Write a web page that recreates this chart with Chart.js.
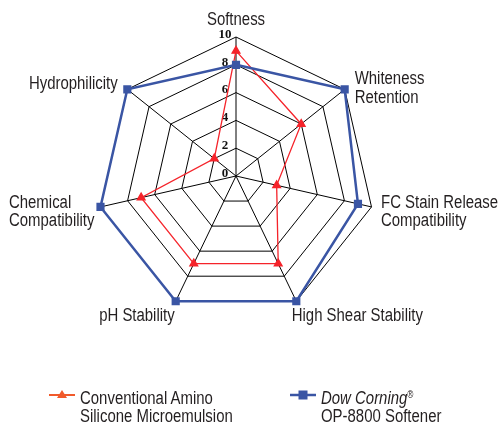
<!DOCTYPE html>
<html><head><meta charset="utf-8">
<script src="https://cdn.jsdelivr.net/npm/chart.js@4.4.1/dist/chart.umd.min.js"></script>
<style>
html,body{margin:0;padding:0;background:#fff;}
#wrap{position:relative;width:500px;height:423px;overflow:hidden;}
#c{position:absolute;left:0;top:0;}
.leg{position:absolute;font-family:"Liberation Sans",Arial,sans-serif;font-size:18px;line-height:18px;color:#231f20;white-space:nowrap;transform:scaleX(0.83);transform-origin:0 0;}
.leg i{font-style:italic;}
.leg sup{font-size:10px;vertical-align:6px;line-height:0;}
.mk{position:absolute;}
</style></head>
<body>
<div id="wrap">
<canvas id="c" width="500" height="423"></canvas>
<svg class="mk" style="left:49px;top:389px" width="27" height="12"><line x1="0" y1="6" x2="26" y2="6" stroke="#f15a2b" stroke-width="2"/><polygon points="13,1 18,9 8,9" fill="#f15a2b"/></svg>
<div class="leg" style="left:80px;top:389px">Conventional Amino<br>Silicone Microemulsion</div>
<svg class="mk" style="left:290px;top:389px" width="27" height="12"><line x1="0" y1="6" x2="26" y2="6" stroke="#3a55a4" stroke-width="2.5"/><rect x="8.5" y="1.5" width="9" height="9" fill="#3a55a4"/></svg>
<div class="leg" style="left:321px;top:389px"><i>Dow Corning</i><sup>®</sup><br>OP-8800 Softener</div>
</div>
<script>
const categories = [
  ["Softness"],
  ["Whiteness", "Retention"],
  ["FC Stain Release", "Compatibility"],
  ["High Shear Stability"],
  ["pH Stability"],
  ["Chemical", "Compatibility"],
  ["Hydrophilicity"]
];
const conventionalValues = [9, 6, 3, 7, 7, 7, 2];
const dowCorningValues = [8, 10, 9, 10, 10, 10, 10];
const tickValues = [0, 2, 4, 6, 8, 10];

const labelFont = '18px "Liberation Sans",Arial,sans-serif';
const SX = 0.83;
const placement = [
  {dx: 0, dy: -17, align: 'center'},
  {dx: 10, dy: -10, align: 'left'},
  {dx: 9.5, dy: -4, align: 'left'},
  {dx: -4.6, dy: 15, align: 'left'},
  {dx: -1, dy: 15, align: 'right'},
  {dx: -6, dy: -4, align: 'blockRight'},
  {dx: -9.6, dy: -5, align: 'right'}
];

function narrowText(ctx, t, x, y, align) {
  const w = ctx.measureText(t).width * SX;
  let left = x;
  if (align === 'center') left = x - w / 2;
  else if (align === 'right') left = x - w;
  ctx.save();
  ctx.translate(left, y);
  ctx.scale(SX, 1);
  ctx.textAlign = 'left';
  ctx.fillText(t, 0, 0);
  ctx.restore();
}

const customLabels = {
  id: 'customLabels',
  beforeDatasetsDraw(chart) {
    const s = chart.scales.r;
    const ctx = chart.ctx;
    ctx.save();
    ctx.font = 'bold 13px "Liberation Serif","Times New Roman",serif';
    ctx.fillStyle = '#111';
    ctx.textAlign = 'center';
    ctx.textBaseline = 'middle';
    tickValues.forEach(v => {
      const d = s.getDistanceFromCenterForValue(v);
      ctx.fillText(String(v), s.xCenter - 11, s.yCenter - d - 2.5);
    });
    ctx.font = labelFont;
    ctx.fillStyle = '#231f20';
    ctx.textBaseline = 'middle';
    categories.forEach((lines, i) => {
      const p = s.getPointPosition(i, s.drawingArea);
      const pl = placement[i];
      let x = p.x + pl.dx;
      const y0 = p.y + pl.dy;
      let align = pl.align;
      if (align === 'blockRight') {
        const w = Math.max(...lines.map(t => ctx.measureText(t).width)) * SX;
        x = x - w;
        align = 'left';
      }
      lines.forEach((t, j) => narrowText(ctx, t, x, y0 + j * 18.5, align));
    });
    ctx.restore();
  }
};

new Chart(document.getElementById('c'), {
  type: 'radar',
  data: {
    labels: categories,
    datasets: [
      {
        label: 'Conventional Amino Silicone Microemulsion',
        data: conventionalValues,
        borderColor: '#f5232a',
        backgroundColor: '#f5232a',
        borderWidth: 1.3,
        pointStyle: 'triangle',
        pointRadius: 4.5,
        fill: false,
        order: 1
      },
      {
        label: 'Dow Corning OP-8800 Softener',
        data: dowCorningValues,
        borderColor: '#3a55a4',
        backgroundColor: '#3a55a4',
        borderWidth: 2.5,
        pointStyle: 'rect',
        pointRadius: 4,
        fill: false,
        order: 0
      }
    ]
  },
  options: {
    responsive: false,
    animation: false,
    layout: {padding: {left: 97, right: 125, top: 37, bottom: 108}},
    plugins: {legend: {display: false}, tooltip: {enabled: false}},
    scales: {
      r: {
        min: 0, max: 10,
        ticks: {display: false, stepSize: 2},
        grid: {color: '#000', lineWidth: 1},
        angleLines: {color: '#000', lineWidth: 1},
        pointLabels: {display: false}
      }
    }
  },
  plugins: [customLabels]
});
</script>
</body></html>
